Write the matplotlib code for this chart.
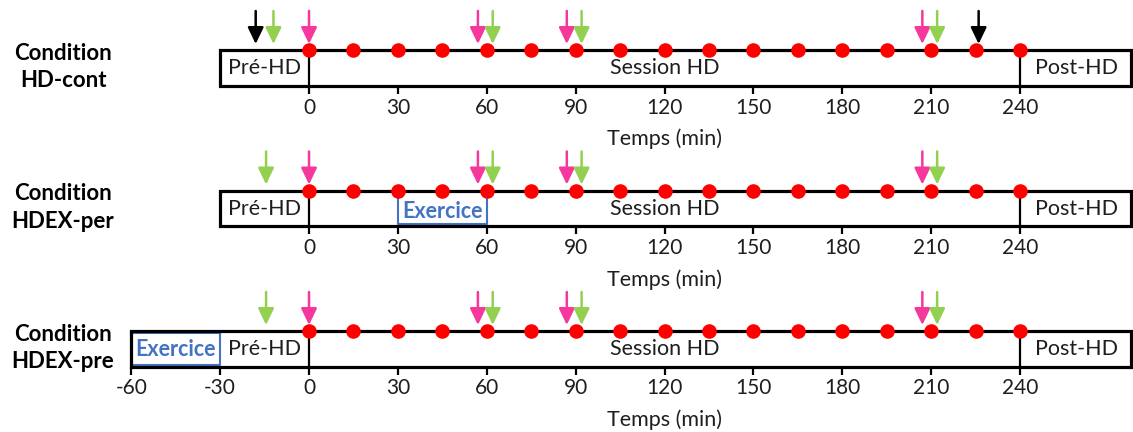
import matplotlib
matplotlib.use("Agg")
import matplotlib.pyplot as plt
from matplotlib.patches import Rectangle

plt.rcParams['font.family'] = ['Lato', 'DejaVu Sans']

# data
conditions = ["Condition\nHD-cont", "Condition\nHDEX-per", "Condition\nHDEX-pre"]
sample_times = [0, 15, 30, 45, 60, 75, 90, 105, 120, 135, 150, 165, 180, 195, 210, 225, 240]
tick_values = [[0, 30, 60, 90, 120, 150, 180, 210, 240],
               [0, 30, 60, 90, 120, 150, 180, 210, 240],
               [-60, -30, 0, 30, 60, 90, 120, 150, 180, 210, 240]]
box_start = [-30, -30, -60]
box_end = 277.5
dividers = [0, 240]
pink_arrows = [[0, 57, 87, 207], [0, 57, 87, 207], [0, 57, 87, 207]]
green_arrows = [[-12, 62, 92, 212], [-14.5, 62, 92, 212], [-14.5, 62, 92, 212]]
black_arrows = [[-18, 226], [], []]
exercise = [None, (30, 60), (-60, -30)]
phase_names = ["Pré-HD", "Session HD", "Post-HD"]
phase_centers = [-15, 120, 259]

RED = '#FF0000'
PINK = '#F6379B'
GREEN = '#92D050'
BLUE = '#4472C4'
TXT = '#1E1E1E'

fig = plt.figure(figsize=(11.33, 4.32), dpi=100)
ax = fig.add_axes([0, 0, 1, 1])
ax.set_xlim(-104.3, 278.1)
ax.set_ylim(432, 0)
ax.axis('off')

panel_tops = [50, 190.5, 331]
box_h = 35.5

for i, top in enumerate(panel_tops):
    bottom = top + box_h

    # main box
    ax.add_patch(Rectangle((box_start[i], top), box_end - box_start[i], box_h,
                           fill=False, edgecolor='black', lw=2.3, zorder=2))
    ax.vlines(dividers, top, bottom, color='black', lw=1.6, zorder=2)
    ax.vlines(tick_values[i], bottom, bottom + 8, color='black', lw=1.6, zorder=2)
    for t in tick_values[i]:
        ax.text(t, bottom + 22, str(t), ha='center', va='center', fontsize=15, color=TXT)
    ax.text(120, bottom + 53.5, "Temps (min)", ha='center', va='center', fontsize=15.5, color=TXT)

    # exercise window
    ex = exercise[i]
    if ex is not None:
        if i == 1:
            y_top, y_bot = top + 6, bottom - 2.5
        else:
            y_top, y_bot = top + 2, bottom - 2
        ax.plot([ex[0], ex[0], ex[1], ex[1]], [y_top, y_bot, y_bot, y_top],
                color=BLUE, lw=1.5, zorder=1)
        if i == 2:
            ax.plot([ex[0], ex[1]], [y_top, y_top], color=BLUE, lw=1.5, zorder=1)
        ax.text((ex[0] + ex[1]) / 2, (y_top + y_bot) / 2 + 1, "Exercice", ha='center', va='center',
                fontsize=15.5, fontweight='bold', color=BLUE)

    # phase labels
    for name, c in zip(phase_names, phase_centers):
        ax.text(c, top + box_h / 2 + 0.5, name, ha='center', va='center', fontsize=15.5, color=TXT)

    # sampling points
    ax.plot(sample_times, [top] * len(sample_times), 'o', color=RED, markersize=10.5,
            markeredgewidth=0, zorder=4)

    # arrows
    for times, col in [(pink_arrows[i], PINK), (green_arrows[i], GREEN), (black_arrows[i], 'black')]:
        for t in times:
            ax.annotate('', xy=(t, top - 6), xytext=(t, top - 39),
                        arrowprops=dict(arrowstyle='-|>,head_length=1.0,head_width=0.48',
                                        color=col, lw=1.8, shrinkA=0, shrinkB=0),
                        zorder=5)

    # condition label
    ax.text(-83, top + 17, conditions[i], ha='center', va='center', fontsize=16,
            fontweight='bold', color='black', linespacing=1.4)

fig.savefig("out.png", dpi=100)
